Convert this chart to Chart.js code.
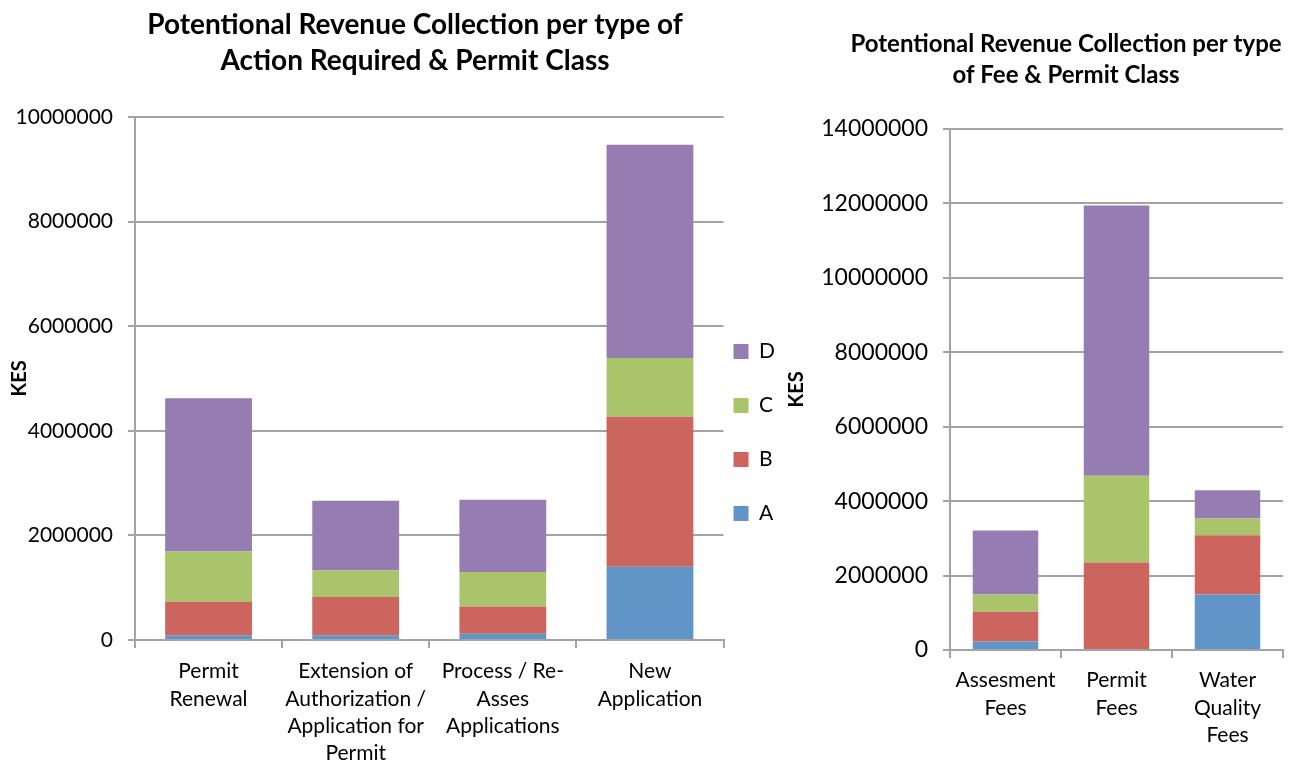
<!DOCTYPE html>
<html>
<head>
<meta charset="utf-8">
<script src="https://cdn.jsdelivr.net/npm/chart.js@4"></script>
<style>
  body { margin: 0; background: #fff; }
  #wrapEsq { position: absolute; left: 0; top: 0; width: 808px; height: 765px; }
  #wrapDir { position: absolute; left: 780px; top: 0; width: 523px; height: 765px; }
</style>
</head>
<body>
<div id="wrapEsq"><canvas id="graficoAcao"></canvas></div>
<div id="wrapDir"><canvas id="graficoTaxa"></canvas></div>
<script>
// Dados do gráfico da esquerda (tipo de ação)
const categoriasAcao = [
    ['Permit', 'Renewal'],
    ['Extension of', 'Authorization /', 'Application for', 'Permit'],
    ['Process / Re-', 'Asses', 'Applications'],
    ['New', 'Application']
];
const acaoA = [90000, 90000, 120000, 1400000];
const acaoB = [640000, 730000, 520000, 2870000];
const acaoC = [960000, 510000, 660000, 1120000];
const acaoD = [2930000, 1330000, 1380000, 4080000];

// Dados do gráfico da direita (tipo de taxa)
const categoriasTaxa = [
    ['Assesment', 'Fees'],
    ['Permit', 'Fees'],
    ['Water', 'Quality', 'Fees']
];
const taxaA = [230000, 0, 1490000];
const taxaB = [800000, 2350000, 1590000];
const taxaC = [460000, 2330000, 450000];
const taxaD = [1720000, 7260000, 760000];

const classes = ['A', 'B', 'C', 'D'];
const cores = ['#6195C8', '#CD655F', '#A9C46B', '#957CB1'];

const COR_GRADE = '#A3A3A3';
const FONTE = 'Lato';

// Desloca título e legenda depois do layout (o Chart.js não tem offset próprio)
const pluginDeslocar = {
    id: 'deslocar',
    afterLayout(chart, args, opts) {
        if (chart.titleBlock && opts.tituloDx) {
            chart.titleBlock.left += opts.tituloDx;
            chart.titleBlock.right += opts.tituloDx;
        }
        if (chart.legend && (opts.legendaDx || opts.legendaDy)) {
            chart.legend.left += opts.legendaDx || 0;
            chart.legend.right += opts.legendaDx || 0;
            chart.legend.top += opts.legendaDy || 0;
            chart.legend.bottom += opts.legendaDy || 0;
        }
    }
};

function montarDatasets(series) {
    return series.map((valores, i) => ({
        label: classes[i],
        data: valores,
        backgroundColor: cores[i],
        borderWidth: 0,
        categoryPercentage: 1,
        barPercentage: 0.59
    }));
}

function opcoesEixoY(max, tamFonte, largura) {
    return {
        stacked: true,
        min: 0,
        max: max,
        ticks: {
            stepSize: 2000000,
            color: '#000',
            padding: 15,
            font: { family: FONTE, size: tamFonte },
            callback: v => String(v)
        },
        grid: { color: COR_GRADE, lineWidth: 2, tickLength: 7 },
        border: { color: COR_GRADE, width: 2 },
        title: {
            display: true,
            text: 'KES',
            color: '#000',
            padding: 0,
            font: { family: FONTE, size: 20, weight: 'bold', lineHeight: 1.2 }
        },
        afterFit: function(scale) { scale.width = largura; }
    };
}

function opcoesEixoX(altura, padding) {
    return {
        stacked: true,
        ticks: {
            color: '#000',
            padding: padding,
            maxRotation: 0,
            autoSkip: false,
            font: { family: FONTE, size: 21, lineHeight: 1.3 }
        },
        grid: { display: true, drawOnChartArea: false, color: COR_GRADE, lineWidth: 2, tickLength: 8 },
        border: { color: COR_GRADE, width: 2 },
        afterFit: function(scale) { scale.height = altura; }
    };
}

document.addEventListener('DOMContentLoaded', function() {

    // Gráfico da esquerda: por tipo de ação e classe de licença
    new Chart(document.getElementById('graficoAcao'), {
        type: 'bar',
        data: {
            labels: categoriasAcao,
            datasets: montarDatasets([acaoA, acaoB, acaoC, acaoD])
        },
        options: {
            responsive: true,
            maintainAspectRatio: false,
            animation: false,
            layout: { padding: { left: 8, right: 0, top: 0, bottom: 0 } },
            scales: {
                x: opcoesEixoX(125, 10),
                y: opcoesEixoY(10000000, 21, 127)
            },
            plugins: {
                title: {
                    display: true,
                    text: ['Potentional Revenue Collection per type of', 'Action Required & Permit Class'],
                    color: '#000',
                    font: { family: FONTE, size: 28, weight: 'bold', lineHeight: 1.32 },
                    padding: { top: 6, bottom: 37 }
                },
                legend: {
                    position: 'right',
                    reverse: true,
                    labels: {
                        color: '#000',
                        boxWidth: 15,
                        boxHeight: 15,
                        padding: 33,
                        font: { family: FONTE, size: 21 }
                    }
                },
                tooltip: { enabled: false },
                deslocar: { tituloDx: 7, legendaDx: -23, legendaDy: 50 }
            }
        },
        plugins: [pluginDeslocar]
    });

    // Gráfico da direita: por tipo de taxa e classe de licença
    new Chart(document.getElementById('graficoTaxa'), {
        type: 'bar',
        data: {
            labels: categoriasTaxa,
            datasets: montarDatasets([taxaA, taxaB, taxaC, taxaD])
        },
        options: {
            responsive: true,
            maintainAspectRatio: false,
            animation: false,
            layout: { padding: { left: 5, right: 20, top: 0, bottom: 0 } },
            scales: {
                x: opcoesEixoX(115, 9),
                y: opcoesEixoY(14000000, 23, 165)
            },
            plugins: {
                title: {
                    display: true,
                    text: ['Potentional Revenue Collection per type', 'of Fee & Permit Class'],
                    color: '#000',
                    font: { family: FONTE, size: 24, weight: 'bold', lineHeight: 1.29 },
                    padding: { top: 29, bottom: 38 }
                },
                legend: { display: false },
                tooltip: { enabled: false },
                deslocar: { tituloDx: 32 }
            }
        },
        plugins: [pluginDeslocar]
    });
});
</script>
</body>
</html>
